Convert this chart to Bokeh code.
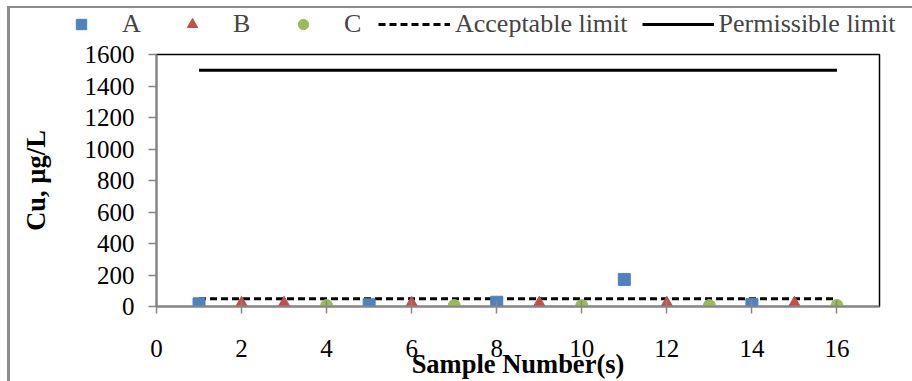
from bokeh.plotting import figure
from bokeh.models import Legend, LegendItem, FixedTicker, Range1d
from bokeh.embed import file_html
from bokeh.resources import INLINE

# ---- data ----
a_x = [1, 5, 8, 11, 14]
a_y = [17, 11, 27, 172, 13]
b_x = [2, 3, 6, 9, 12, 15]
b_y = [6, 6, 6, 6, 6, 6]
c_x = [4, 7, 10, 13, 16]
c_y = [6, 6, 6, 6, 6]
accept_x = [1, 16]
accept_y = [50, 50]
permis_x = [1, 16]
permis_y = [1500, 1500]
x_ticks = [0, 2, 4, 6, 8, 10, 12, 14, 16]
y_ticks = [0, 200, 400, 600, 800, 1000, 1200, 1400, 1600]
legend_labels = ["A", "B", "C", "Acceptable limit", "Permissible limit"]

FONT = "Liberation Serif"
BLUE, RED, GREEN = "#4F81BD", "#C0504D", "#9BBB59"
AXIS_GRAY = "#868686"
LINE_GRAY = "#8c8c8c"

W, H, TOP = 912, 381, 40

series = [
    (a_x, a_y, dict(marker="square", size=12, fill_color=BLUE, line_color=BLUE)),
    (b_x, b_y, dict(marker="triangle", size=16, fill_color=RED, line_color=RED)),
    (c_x, c_y, dict(marker="circle", size=12, fill_color=GREEN, line_color=GREEN)),
]
limits = [
    (accept_x, accept_y, dict(line_color="black", line_width=3, line_dash="7 4")),
    (permis_x, permis_y, dict(line_color="black", line_width=3)),
]


def draw(fig):
    rs = []
    for xs, ys, st in series:
        rs.append(fig.scatter(xs, ys, **st))
    for xs, ys, st in limits:
        rs.append(fig.line(xs, ys, **st))
    return rs


# ---- main chart ----
p = figure(width=W, height=H - TOP, output_backend="svg", toolbar_location=None,
           x_range=Range1d(0, 17), y_range=Range1d(0, 1600),
           min_border_left=156, min_border_right=33, min_border_top=14,
           min_border_bottom=75)
p.xgrid.visible = False
p.ygrid.visible = False
p.outline_line_color = "black"
p.outline_line_width = 1.5
p.background_fill_color = "white"
p.border_fill_alpha = 0
# limits first so markers sit on top
for xs, ys, st in limits:
    p.line(xs, ys, **st)
for xs, ys, st in series:
    p.scatter(xs, ys, **st)

for ax in (p.xaxis[0], p.yaxis[0]):
    ax.axis_line_color = AXIS_GRAY
    ax.axis_line_width = 2
    ax.major_tick_line_color = AXIS_GRAY
    ax.major_tick_line_width = 1.5
    ax.minor_tick_line_color = None
    ax.major_label_text_font = FONT
    ax.major_label_text_font_size = "25px"
    ax.major_label_text_color = "black"
    ax.axis_label_text_font = FONT
    ax.axis_label_text_font_style = "bold"
    ax.axis_label_text_font_size = "26.5px"
    ax.axis_label_text_color = "black"

p.xaxis.ticker = FixedTicker(ticks=x_ticks)
p.yaxis.ticker = FixedTicker(ticks=y_ticks)
p.xaxis.major_tick_in = 6
p.xaxis.major_tick_out = 7
p.xaxis.major_label_standoff = 26
p.xaxis.axis_label = "Sample Number(s)"
p.xaxis.axis_label_standoff = -11
p.yaxis.major_tick_in = 0
p.yaxis.major_tick_out = 8
p.yaxis.major_label_standoff = 14
p.yaxis.axis_label = "Cu, µg/L"
p.yaxis.axis_label_standoff = 31
p.stylesheets = [":host { background: "
                 f"linear-gradient({LINE_GRAY},{LINE_GRAY}) 7px 0px / 3px 100% no-repeat, white; }}"]

# ---- legend strip: same series drawn off-range, only the legend shows ----
lf = figure(width=W, height=TOP, output_backend="svg", toolbar_location=None,
            x_range=Range1d(-1000, -999), y_range=Range1d(-1000, -999),
            min_border=0, min_border_left=0, min_border_right=0,
            min_border_top=0, min_border_bottom=0)
lf.axis.visible = False
lf.grid.visible = False
lf.outline_line_color = None
lf.background_fill_alpha = 0
lf.border_fill_alpha = 0
rs = draw(lf)
items = [LegendItem(label=lab, renderers=[r]) for lab, r in zip(legend_labels, rs)]
legend = Legend(items=items, orientation="horizontal", location=(45, 1),
                glyph_width=72, glyph_height=26, label_standoff=5, spacing=14,
                padding=0, margin=0, border_line_color=None, background_fill_alpha=0,
                label_text_font=FONT, label_text_font_size="26px", label_height=26)
lf.add_layout(legend, "center")
lf.stylesheets = [":host { background: "
                  f"linear-gradient({LINE_GRAY},{LINE_GRAY}) 7px 6px / 100% 2px no-repeat, "
                  f"linear-gradient({LINE_GRAY},{LINE_GRAY}) 7px 6px / 3px 100% no-repeat, white; }}"]

open("out.html", "w").write(file_html([lf, p], INLINE))
